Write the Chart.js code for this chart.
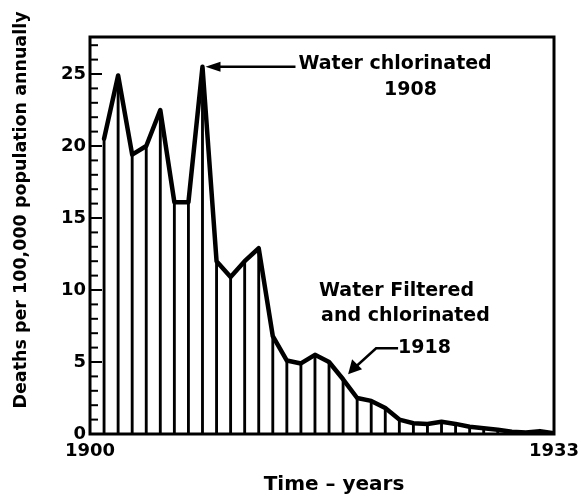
<!DOCTYPE html>
<html>
<head>
<meta charset="utf-8">
<script src="https://cdn.jsdelivr.net/npm/chart.js@4.4.0/dist/chart.umd.min.js"></script>
<style>
    html, body { margin: 0; padding: 0; background: #fff; }
    #wrap { width: 581px; height: 498px; }
</style>
</head>
<body>
<div id="wrap"><canvas id="typhoidChart" width="581" height="498"></canvas></div>
<script>
// Dados
var years = [1901, 1902, 1903, 1904, 1905, 1906, 1907, 1908, 1909, 1910, 1911,
             1912, 1913, 1914, 1915, 1916, 1917, 1918, 1919, 1920, 1921, 1922,
             1923, 1924, 1925, 1926, 1927, 1928, 1929, 1930, 1931, 1932, 1933];
var deaths = [20.5, 24.9, 19.4, 20.0, 22.5, 16.1, 16.1, 25.5, 12.0, 10.9, 12.0,
              12.9, 6.8, 5.1, 4.9, 5.5, 5.0, 3.8, 2.5, 2.3, 1.8, 1.0,
              0.75, 0.7, 0.85, 0.7, 0.5, 0.4, 0.3, 0.15, 0.1, 0.2, 0.05];
var yTickLabels = [0, 5, 10, 15, 20, 25];
var xTickLabels = [1900, 1933];

var fontFamily = "'DejaVu Sans', sans-serif";

document.addEventListener('DOMContentLoaded', function() {
    var points = years.map(function(yr, i) { return { x: yr, y: deaths[i] }; });

    // moldura, marcas do eixo y, títulos e anotações
    var framePlugin = {
        id: 'frameAndNotes',
        afterDraw: function(chart) {
            var ctx = chart.ctx;
            var area = chart.chartArea;
            var xs = chart.scales.x;
            var ys = chart.scales.y;
            ctx.save();
            ctx.strokeStyle = '#000';
            ctx.fillStyle = '#000';

            ctx.lineWidth = 3;
            ctx.strokeRect(area.left, area.top, area.right - area.left, area.bottom - area.top);

            ctx.lineWidth = 2;
            for (var v = 0; v <= Math.floor(ys.max); v++) {
                var py = ys.getPixelForValue(v);
                ctx.beginPath();
                ctx.moveTo(area.left, py);
                ctx.lineTo(area.left + (v % 5 === 0 ? 12 : 8), py);
                ctx.stroke();
            }

            // título do eixo y
            ctx.save();
            ctx.translate(21, 210);
            ctx.rotate(-Math.PI / 2);
            ctx.font = 'bold 17.5px ' + fontFamily;
            ctx.textAlign = 'center';
            ctx.textBaseline = 'middle';
            ctx.fillText('Deaths per 100,000 population annually', 0, 0);
            ctx.restore();

            // título do eixo x
            ctx.font = 'bold 20px ' + fontFamily;
            ctx.textAlign = 'center';
            ctx.textBaseline = 'middle';
            ctx.fillText('Time \u2013 years', 334, 485);

            // seta 1908
            var p1x = xs.getPixelForValue(1908) + 3;
            var p1y = ys.getPixelForValue(25.5);
            ctx.lineWidth = 2.5;
            ctx.beginPath();
            ctx.moveTo(p1x + 10, p1y);
            ctx.lineTo(p1x + 90, p1y);
            ctx.stroke();
            ctx.beginPath();
            ctx.moveTo(p1x, p1y);
            ctx.lineTo(p1x + 15, p1y - 5);
            ctx.lineTo(p1x + 15, p1y + 5);
            ctx.closePath();
            ctx.fill();
            ctx.font = 'bold 19px ' + fontFamily;
            ctx.textAlign = 'left';
            ctx.fillText('Water chlorinated', p1x + 93, p1y - 3);
            ctx.textAlign = 'center';
            ctx.fillText('1908', p1x + 205, p1y + 23);

            // seta 1918
            var p2x = xs.getPixelForValue(1918) + 5;
            var p2y = ys.getPixelForValue(3.8) - 5;
            var kx = p2x + 28, ky = p2y - 26;
            ctx.beginPath();
            ctx.moveTo(p2x + 6, p2y - 6);
            ctx.lineTo(kx, ky);
            ctx.lineTo(kx + 22, ky);
            ctx.stroke();
            ctx.beginPath();
            ctx.moveTo(p2x, p2y);
            ctx.lineTo(p2x + 4, p2y - 15);
            ctx.lineTo(p2x + 14, p2y - 5);
            ctx.closePath();
            ctx.fill();
            ctx.textAlign = 'left';
            ctx.fillText('1918', kx + 22, ky);
            ctx.fillText('and chlorinated', p2x - 27, ky - 32);
            ctx.fillText('Water Filtered', p2x - 29, ky - 57);

            ctx.restore();
        }
    };

    var ctxTyphoid = document.getElementById('typhoidChart').getContext('2d');
    var typhoidChart = new Chart(ctxTyphoid, {
        type: 'line',
        data: {
            datasets: [{
                type: 'line',
                data: points,
                borderColor: '#000',
                borderWidth: 4.5,
                borderJoinStyle: 'round',
                borderCapStyle: 'round',
                pointRadius: 0,
                tension: 0,
                fill: false,
                order: 0
            }, {
                type: 'bar',
                data: points,
                backgroundColor: '#000',
                borderWidth: 0,
                barThickness: 2.2,
                order: 1
            }]
        },
        options: {
            responsive: false,
            animation: false,
            layout: { padding: { top: 37, right: 27, bottom: 0, left: 0 } },
            plugins: {
                legend: { display: false },
                tooltip: { enabled: false }
            },
            scales: {
                x: {
                    type: 'linear',
                    min: 1900,
                    max: 1933,
                    offset: false,
                    afterBuildTicks: function(scale) {
                        scale.ticks = xTickLabels.map(function(v) { return { value: v }; });
                    },
                    afterFit: function(scale) {
                        scale.height = 64;
                        scale.paddingLeft = 0;
                        scale.paddingRight = 0;
                    },
                    ticks: {
                        color: '#000',
                        padding: 7,
                        maxRotation: 0,
                        autoSkip: false,
                        font: { family: fontFamily, size: 18, weight: 'bold' },
                        callback: function(v) { return String(v); }
                    },
                    grid: { display: false, drawTicks: false },
                    border: { display: false }
                },
                y: {
                    min: 0,
                    max: 27.57,
                    afterBuildTicks: function(scale) {
                        scale.ticks = yTickLabels.map(function(v) { return { value: v }; });
                    },
                    afterFit: function(scale) { scale.width = 90; },
                    ticks: {
                        color: '#000',
                        padding: 4,
                        font: { family: fontFamily, size: 18, weight: 'bold' }
                    },
                    grid: { display: false, drawTicks: false },
                    border: { display: false }
                }
            }
        },
        plugins: [framePlugin]
    });
});
</script>
</body>
</html>
